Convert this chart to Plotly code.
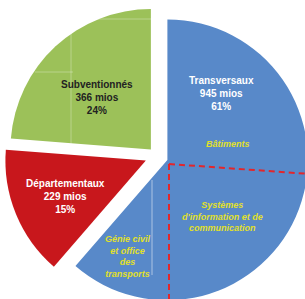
import plotly.graph_objects as go

# ---- data ----
categories = ["Transversaux", "Départementaux", "Subventionnés"]
amounts_mios = [945, 229, 366]
percent_labels = [61, 15, 24]
sub_categories = ["Bâtiments", "Systèmes<br>d'information et de<br>communication",
                  "Génie civil<br>et office<br>des<br>transports"]

# ---- styling ----
colors = ["#5889C9", "#C8171C", "#9CC159"]
pulls = [0.079, 0.086, 0.064]
label_colors = ["#FFFFFF", "#FFFFFF", "#222222"]
label_pos = [(221, 94), (65, 196), (97, 97)]          # pixel centres in the window
sub_pos = [(228, 144), (222, 216), (128, 256)]
W, H = 320, 320          # figure larger than the 305x299 window; overflow is clipped

fig = go.Figure(go.Pie(
    labels=categories,
    values=amounts_mios,
    sort=False,
    direction="clockwise",
    rotation=0,
    pull=pulls,
    marker=dict(colors=colors, line=dict(width=0)),
    textinfo="none",
    hoverinfo="label+value+percent",
    domain=dict(x=[0.0141, 0.9672], y=[0.0359, 0.9891]),
    showlegend=False,
))

def px(x, y):
    return x / W, 1 - y / H

annotations = []
for name, val, pct, col, (x, y) in zip(categories, amounts_mios, percent_labels, label_colors, label_pos):
    ax, ay = px(x, y)
    annotations.append(dict(
        x=ax, y=ay, xref="paper", yref="paper", showarrow=False,
        text=f"{name}<br>{val} mios<br>{pct}%",
        font=dict(family="Liberation Sans, Arial, sans-serif", size=10, color=col, weight="bold"),
        align="center", xanchor="center", yanchor="middle",
    ))
for txt, (x, y) in zip(sub_categories, sub_pos):
    ax, ay = px(x, y)
    annotations.append(dict(
        x=ax, y=ay, xref="paper", yref="paper", showarrow=False,
        text=txt,
        font=dict(family="Liberation Sans, Arial, sans-serif", size=9, color="#E2E02A",
                  weight="bold", style="italic"),
        align="center", xanchor="center", yanchor="middle",
    ))

shapes = []
def seg(x0, y0, x1, y1, color, width, dash="solid", opacity=1.0):
    a0, b0 = px(x0, y0)
    a1, b1 = px(x1, y1)
    shapes.append(dict(type="line", xref="paper", yref="paper", x0=a0, y0=b0, x1=a1, y1=b1,
                       line=dict(color=color, width=width, dash=dash), opacity=opacity))

# dashed subdivision lines inside the blue slice
seg(169, 164, 169, 310, "#E3262B", 2, "6px,4px")
seg(169, 164, 310, 174, "#E3262B", 2, "6px,4px")
# faint textbox edges
seg(152, 180, 152, 275, "#FFFFFF", 1, opacity=0.5)
seg(71, 33, 71, 145, "#FFFFFF", 1, opacity=0.3)
seg(35, 72, 73, 72, "#FFFFFF", 1, opacity=0.3)
seg(70, 19, 152, 19, "#FFFFFF", 1, opacity=0.3)

fig.update_layout(
    width=W, height=H,
    margin=dict(l=0, r=0, t=0, b=0),
    paper_bgcolor="white", plot_bgcolor="white",
    annotations=annotations, shapes=shapes,
)

fig.write_html(
    "out.html",
    config={"displayModeBar": False},
    post_script="document.body.style.margin='0';"
                "document.body.style.overflow='hidden';"
                "document.documentElement.style.overflow='hidden';",
)
